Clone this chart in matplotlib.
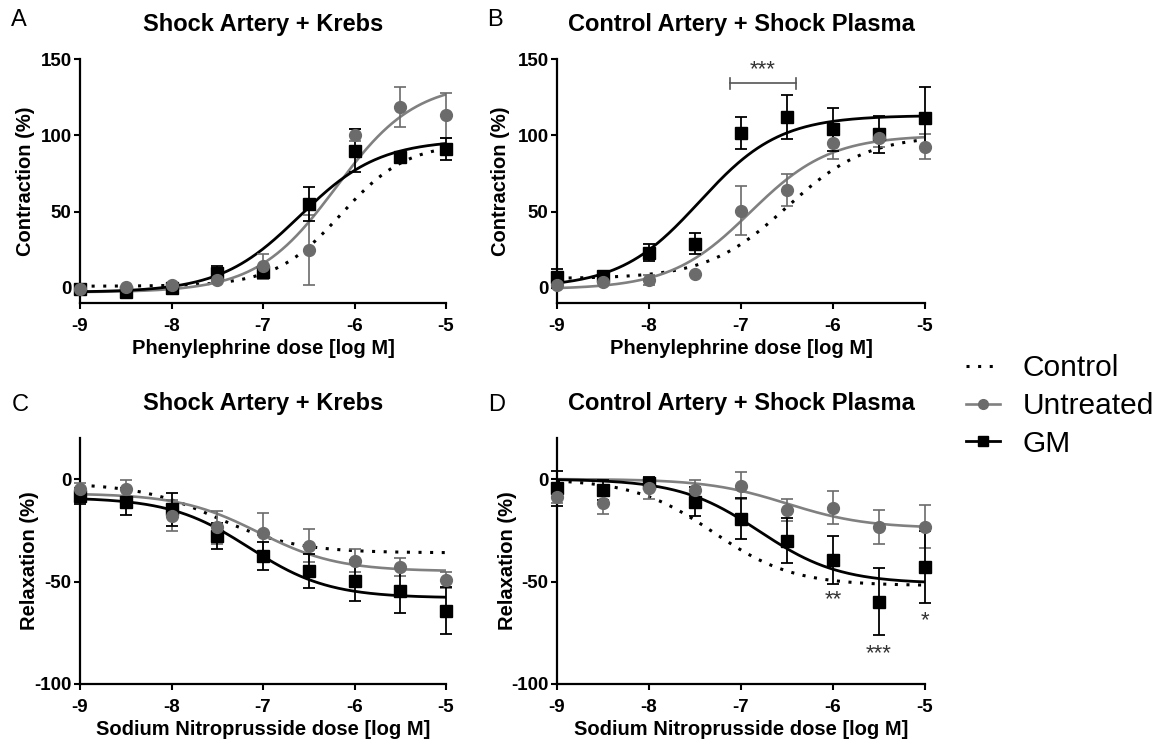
import matplotlib
matplotlib.use('Agg')
import numpy as np
import matplotlib.pyplot as plt
from matplotlib.lines import Line2D

plt.rcParams['font.family'] = ['Liberation Sans', 'DejaVu Sans']
plt.rcParams['axes.unicode_minus'] = False

# doses (log M), same for every panel
dose = [-9, -8.5, -8, -7.5, -7, -6.5, -6, -5.5, -5]

# A: Shock artery + Krebs, phenylephrine
A_untreated = [-0.5, 0.5, 2, 5, 14, 25, 100, 118.5, 113]
A_untreated_err = [0, 0, 0, 0, 8, 23, 4, 13, 15]
A_gm = [-1, -2.5, 0, 10, 10.5, 55, 90, 86, 91]
A_gm_err = [0, 0, 0, 4.5, 4, 11, 14, 2, 7.5]

# B: Control artery + shock plasma, phenylephrine
B_untreated = [1.5, 3.5, 5, 9, 50.5, 64, 95, 98, 92.5]
B_untreated_err = [0, 0, 3.5, 0, 16, 10.5, 10.5, 6, 8]
B_gm = [7, 8, 23, 29, 101.5, 112, 104, 100.5, 111.5]
B_gm_err = [5.5, 2, 5.5, 7, 10.5, 14.5, 14, 12, 20]

# C: Shock artery + Krebs, SNP
C_untreated = [-4.9, -4.9, -17.9, -23.6, -26.5, -32.5, -39.8, -43, -49.2]
C_untreated_err = [3, 4.5, 7.5, 8, 10, 8, 5.5, 4.5, 4]
C_gm = [-8.3, -11, -14.8, -27.8, -37.6, -44.9, -49.6, -54.5, -64.2]
C_gm_err = [4, 6.5, 8, 6.5, 7, 8.5, 10, 11, 11.5]

# D: Control artery + shock plasma, SNP
D_untreated = [-8.6, -11.9, -4.6, -5.4, -3.2, -15.1, -14, -23.3, -23.3]
D_untreated_err = [3, 5, 5, 5, 6.5, 5.5, 8, 8.3, 10.5]
D_gm = [-4.5, -5.4, -1.8, -11, -19.5, -30.1, -39.5, -59.8, -42.8]
D_gm_err = [8.5, 5, 3, 7, 10, 11, 11.5, 16.5, 17.6]

# fitted curves: [low-dose plateau, high-dose plateau, logEC50, hill]
A_fit_control = [1, 95, -6.15, 1.2]
A_fit_untreated = [-3, 135, -6.2, 1]
A_fit_gm = [-3, 97, -6.6, 1]
B_fit_control = [6, 100, -6.5, 1]
B_fit_untreated = [-1, 100, -6.9, 1]
B_fit_gm = [0, 113, -7.45, 1]
C_fit_control = [-2, -36, -7.5, 1]
C_fit_untreated = [-7, -45, -7.05, 1]
C_fit_gm = [-9, -58, -7.15, 1]
D_fit_control = [0, -52, -7.3, 1]
D_fit_untreated = [0, -24, -6.5, 1]
D_fit_gm = [0, -51, -6.8, 1]

# significance marks
B_sig_x = [-7.12, -6.4]
B_sig_y = 134
B_sig_label = '***'
D_star_x = [-6, -5.5, -5]
D_star_y = [-59, -85, -69]
D_star_label = ['**', '***', '*']

GRAY = '#6b6b6b'
GRAY_LINE = '#808080'
DOTS = (0, (1, 2.8))


def curve(x, p):
    lo, hi, ec50, h = p
    return lo + (hi - lo) / (1 + 10 ** ((ec50 - x) * h))


W, H = 1158, 743
fig = plt.figure(figsize=(W / 100, H / 100), dpi=100)

panels = [
    ('A', [80, 303, 366, 244], -0.123, 'Shock Artery + Krebs', 'Phenylephrine dose [log M]', 'Contraction (%)',
     (-10, 150), [0, 50, 100, 150], A_untreated, A_untreated_err, A_gm, A_gm_err,
     A_fit_control, A_fit_untreated, A_fit_gm),
    ('B', [557, 303, 368, 244], -0.128, 'Control Artery + Shock Plasma', 'Phenylephrine dose [log M]', 'Contraction (%)',
     (-10, 150), [0, 50, 100, 150], B_untreated, B_untreated_err, B_gm, B_gm_err,
     B_fit_control, B_fit_untreated, B_fit_gm),
    ('C', [80, 684, 366, 246], -0.112, 'Shock Artery + Krebs', 'Sodium Nitroprusside dose [log M]', 'Relaxation (%)',
     (-100, 20), [-100, -50, 0], C_untreated, C_untreated_err, C_gm, C_gm_err,
     C_fit_control, C_fit_untreated, C_fit_gm),
    ('D', [557, 684, 368, 246], -0.109, 'Control Artery + Shock Plasma', 'Sodium Nitroprusside dose [log M]', 'Relaxation (%)',
     (-100, 20), [-100, -50, 0], D_untreated, D_untreated_err, D_gm, D_gm_err,
     D_fit_control, D_fit_untreated, D_fit_gm),
]

xs = np.linspace(-9, -5, 300)
axes = {}
for (letter, r, ylx, title, xlab, ylab, ylim, yticks, un, un_err, gm, gm_err,
     f_c, f_u, f_g) in panels:
    ax = fig.add_axes([r[0] / W, 1 - r[1] / H, r[2] / W, r[3] / H])
    axes[letter] = ax

    ax.plot(xs, curve(xs, f_c), color='black', lw=2.2, ls=DOTS, zorder=2)
    ax.plot(xs, curve(xs, f_u), color=GRAY_LINE, lw=1.9, zorder=3)
    ax.plot(xs, curve(xs, f_g), color='black', lw=2.0, zorder=4)

    ax.errorbar(dose, un, yerr=un_err, fmt='none', ecolor=GRAY, elinewidth=1.2,
                capsize=4.5, capthick=1.2, clip_on=False, zorder=5)
    ax.errorbar(dose, gm, yerr=gm_err, fmt='none', ecolor='black', elinewidth=1.3,
                capsize=4.5, capthick=1.3, clip_on=False, zorder=5)
    ax.plot(dose, gm, 's', color='black', ms=8, clip_on=False, zorder=6)
    ax.plot(dose, un, 'o', color=GRAY, ms=8.5, clip_on=False, zorder=7)

    ax.set_xlim(-9, -5)
    ax.set_ylim(*ylim)
    ax.set_xticks([-9, -8, -7, -6, -5])
    ax.set_yticks(yticks)
    for s in ['top', 'right']:
        ax.spines[s].set_visible(False)
    for s in ['left', 'bottom']:
        ax.spines[s].set_linewidth(1.6)
    ax.tick_params(direction='out', length=4.5, width=1.5, labelsize=13.5)
    ax.tick_params(axis='x', pad=6)
    ax.tick_params(axis='y', pad=1.5)
    for t in ax.get_xticklabels() + ax.get_yticklabels():
        t.set_fontweight('bold')

    ax.set_title(title, fontsize=17, fontweight='bold', pad=20)
    ax.set_xlabel(xlab, fontsize=14.5, fontweight='bold', labelpad=3)
    ax.set_ylabel(ylab, fontsize=14.5, fontweight='bold')
    ax.yaxis.set_label_coords(ylx, 0.5)

# panel letters
fig.text(11 / W, 1 - 26 / H, 'A', fontsize=17, va='baseline')
fig.text(487 / W, 1 - 26 / H, 'B', fontsize=17, va='baseline')
fig.text(12 / W, 1 - 411 / H, 'C', fontsize=17, va='baseline')
fig.text(488 / W, 1 - 411 / H, 'D', fontsize=17, va='baseline')

# significance bracket in B
axB = axes['B']
axB.plot(B_sig_x, [B_sig_y, B_sig_y], color='#555555', lw=1.2)
for x in B_sig_x:
    axB.plot([x, x], [B_sig_y - 3.5, B_sig_y + 3.5], color='#555555', lw=1.2)
axB.text(np.mean(B_sig_x), B_sig_y + 2, B_sig_label, ha='center', va='bottom', fontsize=16, color='#333333')

axD = axes['D']
for x, y, s in zip(D_star_x, D_star_y, D_star_label):
    axD.text(x, y, s, ha='center', va='center', fontsize=16, color='#333333', clip_on=False)

handles = [
    Line2D([], [], color='black', lw=2.2, ls=DOTS),
    Line2D([], [], color=GRAY_LINE, lw=1.9, marker='o', mfc=GRAY, mec=GRAY, ms=7),
    Line2D([], [], color='black', lw=2.0, marker='s', ms=7),
]
fig.legend(handles, ['Control', 'Untreated', 'GM'], loc='center left',
           bbox_to_anchor=(939 / W, 1 - 406 / H), frameon=False, fontsize=21.5,
           handlelength=1.15, handletextpad=0.75, labelspacing=0.33)

fig.savefig('out.png', dpi=100)
